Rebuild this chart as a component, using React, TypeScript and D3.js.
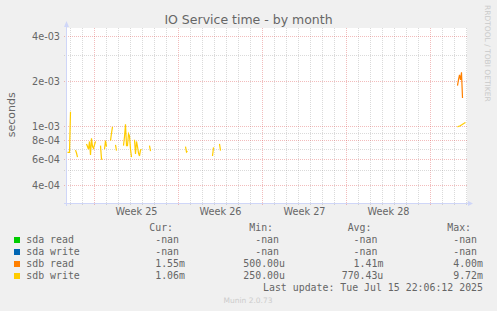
import React from "react";
import * as d3 from "d3";

// ---- data ----
const title = "IO Service time - by month";
const yLabel = "seconds";
const seriesNames = ["sda read", "sda write", "sdb read", "sdb write"];
const seriesColors = ["#00cc00", "#0066b3", "#ff8000", "#ffcc00"];
const legendCur = ["-nan", "-nan", "1.55m", "1.06m"];
const legendMin = ["-nan", "-nan", "500.00u", "250.00u"];
const legendAvg = ["-nan", "-nan", "1.41m", "770.43u"];
const legendMax = ["-nan", "-nan", "4.00m", "9.72m"];
const legendHeaders = ["Cur:", "Min:", "Avg:", "Max:"];
const lastUpdate = "Last update: Tue Jul 15 22:06:12 2025";
const footer = "Munin 2.0.73";
const sideText = "RRDTOOL / TOBI OETIKER";

// time axis: 2-hour samples
const domainStart = "2025-06-13T17:00:00Z";
const domainEnd = "2025-07-17T01:00:00Z";
const sampleBase = "2025-06-13T18:00:00Z";
const sampleStepHours = 2;

// y axis (log)
const yDomain = [3.04e-4, 4.59e-3];
const yMajor = [4e-4, 6e-4, 8e-4, 1e-3, 2e-3, 4e-3];
const yMinor = [5e-4, 7e-4, 9e-4, 3e-3];

// segments: [startSampleIndex, values]
const sdaRead: [number, number[]][] = [];
const sdaWrite: [number, number[]][] = [];
const sdbRead: [number, number[]][] = [
  [390, [1.88e-3, 2.06e-3, 2.22e-3, 2.05e-3, 2.31e-3, 1.55e-3]],
];
const sdbWrite: [number, number[]][] = [
  [0, [6.67e-4, 6.67e-4, 6.67e-4, 1.25e-3]],
  [8, [6.9e-4, 6.6e-4, 6.2e-4]],
  [19, [7.6e-4, 7.3e-4, 7.0e-4, 7.9e-4, 6.4e-4, 8.3e-4, 7.3e-4, 7.1e-4, 7.5e-4, 7.9e-4]],
  [33, [7.4e-4, 6.0e-4, 6.0e-4]],
  [37, [7.0e-4, 8.0e-4, 7.3e-4]],
  [43, [8.0e-4, 9.0e-4, 9.9e-4]],
  [48, [7.5e-4, 6.85e-4]],
  [56, [7.4e-4, 8.5e-4, 1.03e-3, 7.4e-4, 7.4e-4, 8.9e-4, 8.6e-4, 7.0e-4, 6.2e-4]],
  [67, [8.1e-4, 6.5e-4, 7.9e-4, 7.3e-4, 6.6e-4, 6.3e-4, 6.9e-4, 7.0e-4]],
  [82, [7.4e-4, 6.8e-4]],
  [118, [7.3e-4, 6.7e-4, 6.8e-4]],
  [145, [6.3e-4, 7.2e-4]],
  [152, [7.6e-4, 6.85e-4]],
  [390, [9.9e-4, 1.0e-3, 1.0e-3, 1.01e-3, 1.02e-3, 1.03e-3, 1.04e-3, 1.05e-3, 1.06e-3]],
];
const allSeries = [sdaRead, sdaWrite, sdbRead, sdbWrite];

// ---- layout ----
const W = 497, H = 311;
const PL = 67, PR = 467, PT = 28, PB = 203;
const FONT = "'DejaVu Sans', sans-serif";
const MONO = "'DejaVu Sans Mono', monospace";
const TXT = "#666666";
const GRID = "rgba(143,143,143,0.33)";
const MGRID = "rgba(222,79,79,0.38)";
const AXIS = "#cfd6f8";

function fmtExp(v: number) {
  const e = Math.floor(Math.log10(v) + 1e-9);
  const m = Math.round(v / Math.pow(10, e));
  return `${m}e${e < 0 ? "-" : "+"}${String(Math.abs(e)).padStart(2, "0")}`;
}

export default function App() {
  const start = new Date(domainStart);
  const end = new Date(domainEnd);
  const x = d3.scaleUtc().domain([start, end]).range([PL, PR]);
  const y = d3.scaleLog().domain(yDomain).range([PB, PT]);
  const base = new Date(sampleBase).getTime();
  const tAt = (i: number) => new Date(base + i * sampleStepHours * 3600e3);

  const days = d3.utcDay.range(d3.utcDay.ceil(start), end);
  const isMonday = (d: Date) => d.getUTCDay() === 1;
  const weekFmt = d3.utcFormat("%V");
  const weekLabels = d3.utcMonday
    .range(d3.utcMonday.floor(start), end)
    .map((m) => ({ m, c: new Date(m.getTime() + 3.5 * 86400e3) }))
    .filter((o) => o.c >= start && o.c <= end);

  const line = d3
    .line<[number, number]>()
    .x((d) => x(tAt(d[0])))
    .y((d) => y(d[1]));

  const snap = (v: number) => Math.floor(v) + 0.5;
  const charW = 9.9 * 0.602;
  const fieldStarts = [143.3, 243.3, 341.7, 441.3];
  const cols = [legendCur, legendMin, legendAvg, legendMax];
  const rowBase = [243, 255, 267, 279];

  return (
    <svg width={W} height={H} style={{ position: "absolute", left: 0, top: 0 }}>
      <rect x={0} y={0} width={W} height={H} fill="#f0f0f0" />
      <rect x={PL} y={PT} width={PR - PL} height={PB - PT} fill="#ffffff" />
      {/* vertical grid */}
      {days.map((d, i) => {
        const xx = snap(x(d));
        return (
          <line key={"vx" + i} x1={xx} x2={xx} y1={PT} y2={PB + 3}
            stroke={isMonday(d) ? MGRID : GRID} strokeDasharray="1,1" shapeRendering="crispEdges" />
        );
      })}
      {/* horizontal grid */}
      {yMinor.map((v, i) => {
        const yy = snap(y(v));
        return <line key={"hm" + i} x1={PL - 3} x2={PR + 1} y1={yy} y2={yy}
          stroke={GRID} strokeDasharray="1,1" shapeRendering="crispEdges" />;
      })}
      {yMajor.map((v, i) => {
        const yy = snap(y(v));
        return <line key={"hM" + i} x1={PL - 3} x2={PR + 1} y1={yy} y2={yy}
          stroke={MGRID} strokeDasharray="1,1" shapeRendering="crispEdges" />;
      })}
      {/* y labels */}
      {yMajor.map((v, i) => (
        <text key={"yl" + i} x={60} y={y(v) + 3.5} textAnchor="end" fontFamily={FONT} fontSize={9.7} fill={TXT}>
          {fmtExp(v)}
        </text>
      ))}
      {/* week labels */}
      {weekLabels.map((o, i) => (
        <text key={"wl" + i} x={x(o.c)} y={215} textAnchor="middle" fontFamily={FONT} fontSize={9.7} fill={TXT}>
          {"Week " + weekFmt(o.m)}
        </text>
      ))}
      {/* series */}
      {allSeries.map((segs, si) =>
        segs.map(([s0, vals], k) => (
          <path key={"s" + si + "_" + k}
            d={line(vals.map((v, j) => [s0 + j, v] as [number, number])) || ""}
            fill="none" stroke={seriesColors[si]} strokeWidth={1.2} />
        ))
      )}
      {/* axes */}
      <line x1={PL - 3} x2={PR + 2} y1={PB + 0.5} y2={PB + 0.5} stroke={AXIS} shapeRendering="crispEdges" />
      <line x1={PL - 0.5} x2={PL - 0.5} y1={PT - 4} y2={PB + 3} stroke={AXIS} shapeRendering="crispEdges" />
      <polygon points={`${PL - 3},${PT - 1} ${PL + 2},${PT - 1} ${PL - 0.5},${PT - 7}`} fill={AXIS} />
      <polygon points={`${PR + 1},${PB - 2} ${PR + 1},${PB + 3} ${PR + 6},${PB + 0.5}`} fill={AXIS} />
      {/* title & labels */}
      <text x={248.5} y={24} textAnchor="middle" fontFamily={FONT} fontSize={12.5} fill={TXT}>{title}</text>
      <text transform={`translate(14.5,114.7) rotate(-90)`} textAnchor="middle" fontFamily={FONT} fontSize={11} fill={TXT}>{yLabel}</text>
      <text transform={`translate(485.3,5) rotate(90)`} textAnchor="start" fontFamily={FONT} fontSize={7.5} fill="#cacaca">{sideText}</text>
      {/* legend */}
      {legendHeaders.map((h, i) => (
        <text key={"lh" + i} x={fieldStarts[i] + charW} y={231} fontFamily={MONO} fontSize={9.9} fill={TXT}>{h}</text>
      ))}
      {seriesNames.map((n, r) => (
        <g key={"lr" + r}>
          <rect x={14} y={rowBase[r] - 6} width={6} height={6} fill={seriesColors[r]} />
          <text x={26.3} y={rowBase[r]} fontFamily={MONO} fontSize={9.9} fill={TXT}>{n}</text>
          {cols.map((c, ci) => {
            const s = c[r];
            const len = s === "-nan" ? s.length + 1 : s.length;
            return (
              <text key={"v" + ci} x={fieldStarts[ci] + (7 - len) * charW} y={rowBase[r]}
                fontFamily={MONO} fontSize={9.9} fill={TXT}>{s}</text>
            );
          })}
        </g>
      ))}
      <text x={483} y={291} textAnchor="end" fontFamily={MONO} fontSize={9.9} fill={TXT}>{lastUpdate}</text>
      <text x={248} y={302.7} textAnchor="middle" fontFamily={FONT} fontSize={7.5} fill="#cccccc">{footer}</text>
    </svg>
  );
}
